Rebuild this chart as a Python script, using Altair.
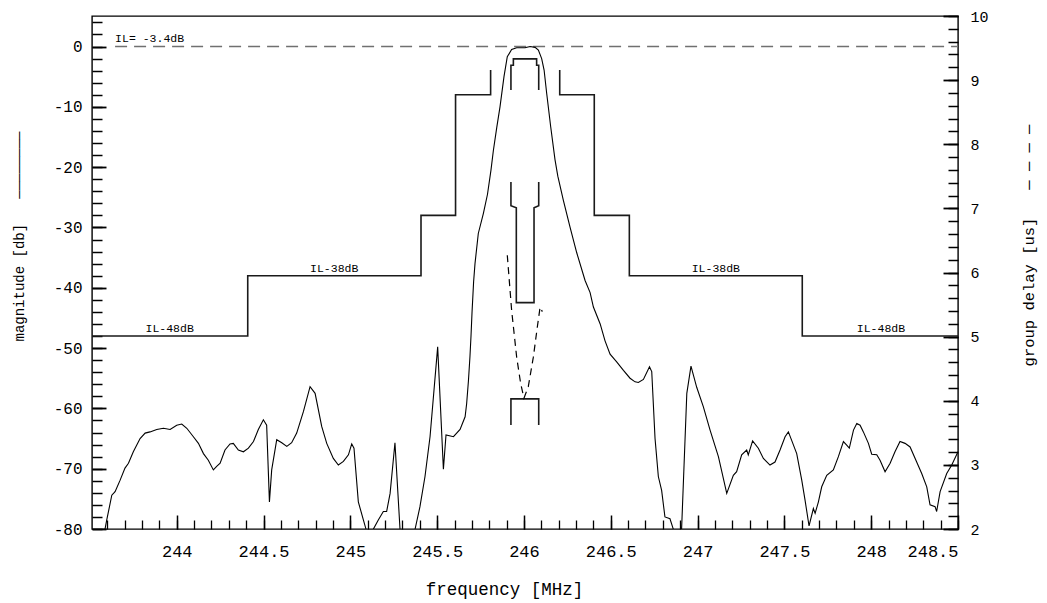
import altair as alt
import pandas as pd

FONT = "Liberation Mono"
NB = "\u00a0"

# ---------------- magnitude response [dB] ----------------
mag_freq = [243.570, 243.587, 243.597, 243.626, 243.645, 243.674, 243.702, 243.722, 243.750, 243.789,
            243.818, 243.846, 243.885, 243.923, 243.962, 244.000, 244.029, 244.058, 244.096, 244.125,
            244.154, 244.182, 244.211, 244.230, 244.250, 244.278, 244.307, 244.326, 244.355, 244.384,
            244.413, 244.442, 244.470, 244.499, 244.518, 244.534, 244.547, 244.576, 244.605, 244.634,
            244.662, 244.691, 244.730, 244.768, 244.797, 244.835, 244.864, 244.902, 244.931, 244.960,
            244.989, 245.008, 245.021, 245.046, 245.075, 245.090, 245.110, 245.133, 245.161, 245.190,
            245.209, 245.229, 245.257, 245.286, 245.330, 245.373, 245.401, 245.430, 245.459, 245.503,
            245.536, 245.551, 245.594, 245.632, 245.661, 245.670, 245.680, 245.689, 245.695, 245.701,
            245.710, 245.718, 245.737, 245.766, 245.790, 245.810, 245.824, 245.843, 245.862, 245.885,
            245.904, 245.929, 245.958, 246.006, 246.035, 246.064, 246.083, 246.102, 246.116, 246.131,
            246.154, 246.179, 246.195, 246.227, 246.265, 246.304, 246.352, 246.381, 246.400, 246.439,
            246.467, 246.496, 246.534, 246.573, 246.611, 246.640, 246.659, 246.688, 246.723, 246.736,
            246.755, 246.774, 246.793, 246.812, 246.841, 246.860, 246.885, 246.908, 246.938, 246.962,
            246.995, 247.033, 247.072, 247.120, 247.168, 247.206, 247.225, 247.254, 247.283, 247.292,
            247.317, 247.350, 247.379, 247.417, 247.446, 247.475, 247.504, 247.523, 247.542, 247.571,
            247.600, 247.619, 247.642, 247.667, 247.677, 247.696, 247.715, 247.744, 247.782, 247.811,
            247.840, 247.859, 247.874, 247.898, 247.917, 247.936, 247.955, 247.984, 248.003, 248.032,
            248.051, 248.080, 248.109, 248.137, 248.166, 248.195, 248.224, 248.262, 248.291, 248.320,
            248.339, 248.368, 248.377, 248.397, 248.435, 248.464, 248.500]
mag_db = [-84.0, -80.0, -78.5, -74.4, -73.8, -71.9, -69.9, -69.1, -67.2, -65.0,
          -64.1, -63.9, -63.5, -63.3, -63.5, -62.8, -62.6, -63.3, -64.7, -65.8,
          -67.5, -68.6, -70.2, -69.6, -69.1, -66.9, -65.9, -65.8, -66.9, -67.2,
          -66.6, -65.5, -63.5, -61.9, -62.8, -75.5, -70.2, -65.2, -65.7, -66.3,
          -65.7, -64.1, -60.5, -56.4, -57.5, -63.0, -65.8, -68.3, -69.4, -68.8,
          -67.7, -65.9, -66.6, -75.5, -78.5, -80.0, -84.0, -80.0, -78.5, -77.1,
          -77.1, -74.1, -65.7, -80.0, -88.0, -80.0, -76.3, -71.3, -64.7, -49.8,
          -70.1, -64.4, -64.7, -63.5, -61.4, -59.2, -55.5, -51.4, -48.0, -44.0,
          -39.0, -36.0, -31.0, -27.7, -24.5, -20.5, -17.2, -13.5, -10.0, -5.0,
          -1.7, -0.5, -0.2, -0.2, 0.0, -0.14, -0.6, -2.0, -3.9, -7.8,
          -13.3, -18.8, -21.5, -25.5, -29.9, -34.2, -38.8, -40.8, -43.2, -46.0,
          -48.8, -51.0, -52.3, -53.7, -55.0, -55.6, -55.7, -55.2, -53.1, -53.9,
          -65.0, -71.3, -73.6, -78.0, -78.3, -80.0, -86.0, -80.0, -57.5, -53.0,
          -56.5, -59.7, -63.6, -68.0, -74.1, -71.1, -70.5, -67.7, -66.9, -67.7,
          -65.4, -66.6, -68.3, -69.4, -68.9, -66.9, -64.7, -63.9, -65.3, -67.5,
          -71.9, -75.2, -79.5, -76.6, -77.4, -75.5, -73.0, -71.1, -70.2, -68.0,
          -65.5, -66.1, -66.6, -63.6, -62.5, -62.8, -63.9, -65.8, -67.6, -67.7,
          -68.6, -70.5, -69.1, -67.2, -65.5, -65.8, -66.4, -68.9, -70.8, -73.0,
          -76.0, -76.3, -77.1, -73.8, -70.8, -69.4, -67.2]

# ---------------- group delay [us] ----------------
gd_freq = [245.904, 245.929, 245.958, 245.981, 246.000, 246.025, 246.054, 246.077, 246.093, 246.106]
gd_us = [6.27, 5.41, 4.68, 4.27, 4.04, 4.22, 4.68, 5.15, 5.46, 5.39]

# ---------------- amplitude mask (left axis) ----------------
amask_freq = [243.512, 244.409, 244.409, 245.407, 245.407, 245.606, 245.606, 245.808, 245.808,
              246.206, 246.206, 246.405, 246.405, 246.607, 246.607, 247.603, 247.603, 248.500,
              245.925, 245.925, 245.939, 245.939, 246.073, 246.073, 246.085, 246.085]
amask_db = [-48, -48, -38, -38, -28, -28, -8, -8, -3.9,
            -3.9, -8, -8, -28, -28, -38, -38, -48, -48,
            -7.2, -3.1, -3.1, -2.05, -2.05, -3.1, -3.1, -7.2]
amask_seg = ["L"] * 9 + ["R"] * 9 + ["P"] * 8

# ---------------- group delay mask (right axis) ----------------
gmask_freq = [245.925, 245.925, 245.956, 245.956, 246.058, 246.058, 246.085, 246.085,
              245.925, 245.925, 246.085, 246.085]
gmask_us = [7.41, 7.04, 7.01, 5.53, 5.53, 7.01, 7.04, 7.41,
            3.62, 4.03, 4.03, 3.62]
gmask_seg = ["U"] * 8 + ["D"] * 4

# ---------------- insertion-loss reference line ----------------
il_freq = [243.645, 248.5]
il_db = [0.0, 0.0]

# ---------------- annotations ----------------
note_text = ["IL= -3.4dB", "IL-48dB", "IL-38dB", "IL-38dB", "IL-48dB"]
note_freq = [243.645, 243.82, 244.768, 246.966, 247.917]
note_db = [0.8, -47.3, -37.35, -37.35, -47.3]

# ---------------- axis ticks ----------------
x_major = [244, 244.5, 245, 245.5, 246, 246.5, 247, 247.5, 248, 248.5]
x_minor = [round(243.6 + 0.1 * i, 1) for i in range(50)]
db_major = [-80, -70, -60, -50, -40, -30, -20, -10, 0]
db_minor = list(range(-80, 5, 2))
gd_major = [2, 3, 4, 5, 6, 7, 8, 9, 10]
gd_minor = [round(2 + 0.2 * i, 1) for i in range(41)]

X_DOM = [243.512, 248.5]
DB_DOM = [-80, 5.06]
GD_DOM = [2, 10]

mag_title = "magnitude [db]" + NB * 3 + "─" * 8
gd_title = "group delay [us]" + NB * 3 + ("─" + NB) * 3 + "─"

mag_df = pd.DataFrame({"f": mag_freq, "v": mag_db, "i": range(len(mag_freq))})
gd_df = pd.DataFrame({"f": gd_freq, "v": gd_us, "i": range(len(gd_freq))})
amask_df = pd.DataFrame({"f": amask_freq, "v": amask_db, "seg": amask_seg, "i": range(len(amask_freq))})
gmask_df = pd.DataFrame({"f": gmask_freq, "v": gmask_us, "seg": gmask_seg, "i": range(len(gmask_freq))})
il_df = pd.DataFrame({"f": il_freq, "v": il_db, "i": range(2)})
note_df = pd.DataFrame({"f": note_freq, "v": note_db, "t": note_text})

xs = alt.Scale(domain=X_DOM, nice=False, zero=False)
dbs = alt.Scale(domain=DB_DOM, nice=False, zero=False)
gds = alt.Scale(domain=GD_DOM, nice=False, zero=False)

x_major_axis = alt.Axis(orient="bottom", values=x_major, tickSize=14, offset=-14, tickWidth=1.5,
                        labelFontSize=17, labelPadding=14, labelExpr="'' + datum.value",
                        title="frequency [MHz]", titleFontSize=17.5, titleX=412, titleY=79,
                        titleAlign="center", titleBaseline="alphabetic")
x_minor_axis = alt.Axis(orient="bottom", values=x_minor, tickSize=9, offset=-9, tickWidth=1.3,
                        labels=False, title=None)
db_major_axis = alt.Axis(orient="left", values=db_major, tickSize=14, offset=-14, tickWidth=1.8,
                         labelFontSize=16, labelPadding=10, labelExpr="'' + datum.value",
                         title=mag_title, titleFontSize=14, titleAngle=270,
                         titleX=-83, titleY=220, titleAlign="center", titleBaseline="alphabetic")
db_minor_axis = alt.Axis(orient="left", values=db_minor, tickSize=10, offset=-10, tickWidth=1.5,
                         labels=False, title=None)
gd_major_axis = alt.Axis(orient="right", values=gd_major, tickSize=15, offset=-15, tickWidth=1.8,
                         labelFontSize=15, labelPadding=12, labelExpr="'' + datum.value",
                         title=gd_title, titleFontSize=15.5, titleAngle=270,
                         titleX=90, titleY=229, titleAlign="center", titleBaseline="alphabetic")
gd_minor_axis = alt.Axis(orient="right", values=gd_minor, tickSize=10, offset=-10, tickWidth=1.5,
                         labels=False, title=None)

mag_line = alt.Chart(mag_df).mark_line(clip=True, color="black", strokeWidth=1.1).encode(
    x=alt.X("f:Q", scale=xs, axis=x_major_axis),
    y=alt.Y("v:Q", scale=dbs, axis=db_major_axis),
    order="i:Q",
)
amask_line = alt.Chart(amask_df).mark_line(clip=True, color="#1a1a1a", strokeWidth=1.6).encode(
    x=alt.X("f:Q", scale=xs, axis=x_minor_axis),
    y=alt.Y("v:Q", scale=dbs, axis=db_minor_axis),
    detail="seg:N",
    order="i:Q",
)
il_line = alt.Chart(il_df).mark_line(color="#707070", strokeWidth=1.5, strokeDash=[12, 7]).encode(
    x=alt.X("f:Q", scale=xs, axis=None),
    y=alt.Y("v:Q", scale=dbs, axis=None),
    order="i:Q",
)
notes = alt.Chart(note_df).mark_text(align="left", baseline="alphabetic", font=FONT,
                                     fontSize=11.5, color="black").encode(
    x=alt.X("f:Q", scale=xs, axis=None),
    y=alt.Y("v:Q", scale=dbs, axis=None),
    text="t:N",
)
gd_line = alt.Chart(gd_df).mark_line(color="black", strokeWidth=1.2, strokeDash=[7, 5]).encode(
    x=alt.X("f:Q", scale=xs, axis=None),
    y=alt.Y("v:Q", scale=gds, axis=gd_major_axis),
    order="i:Q",
)
gmask_line = alt.Chart(gmask_df).mark_line(color="#1a1a1a", strokeWidth=1.6).encode(
    x=alt.X("f:Q", scale=xs, axis=None),
    y=alt.Y("v:Q", scale=gds, axis=gd_minor_axis),
    detail="seg:N",
    order="i:Q",
)

chart = (
    alt.layer(il_line, amask_line, mag_line, notes, gmask_line, gd_line)
    .resolve_scale(y="independent")
    .resolve_axis(x="independent", y="independent")
    .properties(
        width=866,
        height=513,
        autosize=alt.AutoSizeParams(type="none"),
        padding={"left": 84, "top": 8, "right": 81, "bottom": 73},
        background="white",
    )
    .configure_view(stroke="black", strokeWidth=1.4)
    .configure_axis(labelFont=FONT, titleFont=FONT, labelColor="black", titleColor="black",
                    tickColor="black", grid=False, domain=False, titleFontWeight="normal")
)

chart.save("out.html", embed_options={"renderer": "svg", "actions": False})
